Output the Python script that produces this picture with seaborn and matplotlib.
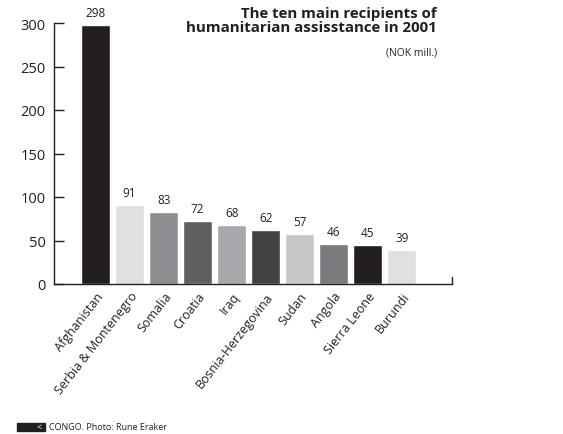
import matplotlib
matplotlib.use("Agg")
import matplotlib.pyplot as plt
import matplotlib.patches as mpatches
import pandas as pd
import seaborn as sns

countries = ["Afghanistan", "Serbia & Montenegro", "Somalia", "Croatia", "Iraq",
             "Bosnia-Herzegovina", "Sudan", "Angola", "Sierra Leone", "Burundi"]
amounts = [298, 91, 83, 72, 68, 62, 57, 46, 45, 39]
bar_colors = ["#231f20", "#e0e0e2", "#8d8e91", "#606062", "#a7a8ab",
              "#414244", "#c6c7c9", "#7a7b7e", "#231f20", "#e0e0e2"]
y_ticks = [0, 50, 100, 150, 200, 250, 300]

sns.set_style("white")
plt.rcParams["font.family"] = ["Open Sans", "DejaVu Sans"]

df = pd.DataFrame({"country": countries, "amount": amounts})

fig = plt.figure(figsize=(5.63, 4.35), dpi=100)
ax = fig.add_axes([54 / 563, 1 - 285 / 435, (452 - 54) / 563, (285 - 24) / 435])

sns.barplot(data=df, x="country", y="amount", hue="country", palette=bar_colors,
            width=0.85, legend=False, ax=ax, saturation=1)

for i, v in enumerate(amounts):
    ax.text(i, v + 7, str(v), ha="center", va="bottom", fontsize=8.5, color="#231f20")

ax.set_xlim(-1.22, 9 + 1.47)
ax.set_ylim(0, 300)
ax.set_yticks(y_ticks)
ax.tick_params(axis="y", length=0, labelsize=10.5, labelcolor="#231f20", pad=6)
ax.tick_params(axis="x", length=0, pad=4)
ax.set_xticks(range(len(countries)))
ax.set_xticklabels(countries, rotation=52, ha="right", rotation_mode="anchor",
                   fontsize=9, color="#231f20")
ax.set_xlabel("")
ax.set_ylabel("")

# inward tick marks on the value axis
ytrans = ax.get_yaxis_transform()
for t in y_ticks:
    ax.plot([0, 0.025], [t, t], transform=ytrans, color="#231f20", lw=1.0,
            clip_on=False, solid_capstyle="butt")

for s in ["top", "right"]:
    ax.spines[s].set_visible(False)
for s in ["left", "bottom"]:
    ax.spines[s].set_color("#231f20")
    ax.spines[s].set_linewidth(1.0)
ax.plot([1, 1], [0, 0.025], transform=ax.transAxes, color="#231f20", lw=1.0, clip_on=False)

fig.text(437 / 563, 1 - 21 / 435, "The ten main recipients of\nhumanitarian assisstance in 2001",
         ha="right", va="center", fontsize=10.8, fontweight="bold", color="#231f20",
         linespacing=0.92)
fig.text(437 / 563, 1 - 53 / 435, "(NOK mill.)", ha="right", va="center",
         fontsize=7.5, color="#231f20")

fig.patches.append(mpatches.Rectangle((17 / 563, 1 - 432 / 435), 28 / 563, 8 / 435,
                                      transform=fig.transFigure, color="#231f20"))
fig.text(42 / 563, 1 - 428 / 435, "<", ha="right", va="center", fontsize=6.5, color="white")
fig.text(49 / 563, 1 - 428 / 435, "CONGO. Photo: Rune Eraker", ha="left", va="center",
         fontsize=6.5, color="#231f20")

fig.savefig("out.png", dpi=100)
